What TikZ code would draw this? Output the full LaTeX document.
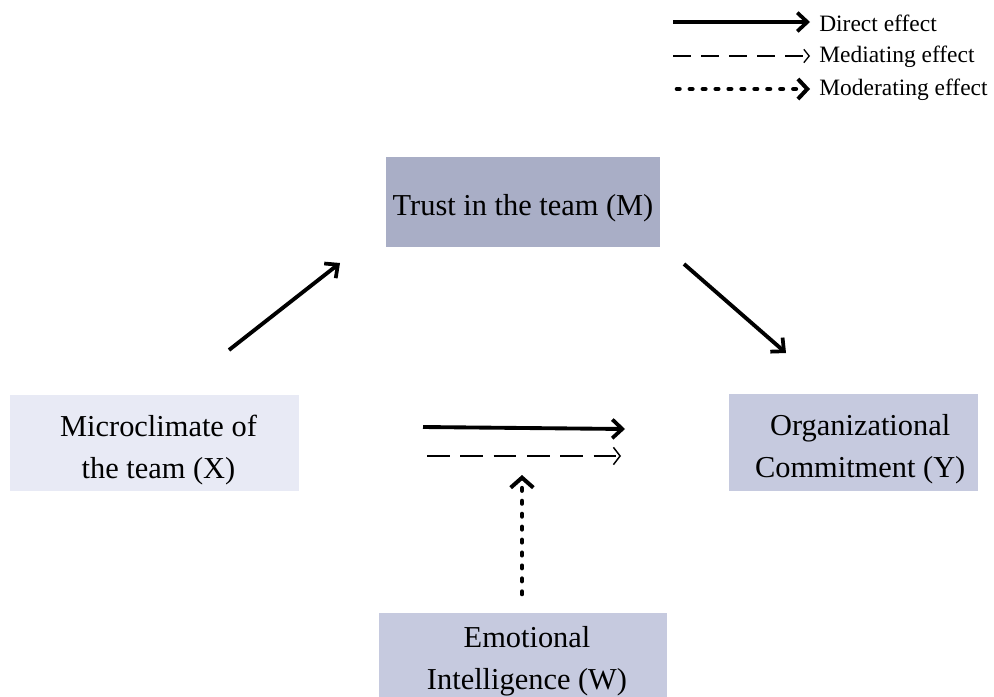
\documentclass[tikz,border=0pt]{standalone}
\usepackage{fontspec}
\setmainfont{Liberation Serif}
\usetikzlibrary{arrows.meta}
\definecolor{boxdark}{HTML}{A9AEC6}
\definecolor{boxmid}{HTML}{C6CADF}
\definecolor{boxlight}{HTML}{E8EAF5}
\tikzset{
  conceptbox/.style={draw=none, inner sep=0pt},
  concepttext/.style={align=center, inner sep=0pt,
    font=\fontsize{22.8}{31.5}\selectfont},
  legendtext/.style={anchor=west, inner sep=0pt,
    font=\fontsize{17.6}{20}\selectfont},
  directarrow/.style={line width=2.9pt,
    -{Straight Barb[length=7.5pt,width=14pt,line width=2.8pt]}},
  mediatearrow/.style={line width=1.3pt, dash pattern=on 17pt off 8pt,
    -{Straight Barb[length=5pt,width=13pt,line width=1.1pt]}},
  moderatearrow/.style={line width=3.5pt, line cap=round, dash pattern=on 1.8pt off 7.9pt,
    -{Straight Barb[length=7.5pt,width=17pt,line width=3pt]}},
}
\begin{document}
\begin{tikzpicture}[x=0.75pt,y=-0.75pt]
\useasboundingbox (0,0) rectangle (994,696);
\clip (0,0) rectangle (994,696);

% legend
\coordinate (l1a) at (673,22);  \coordinate (l1b) at (810,22);
\coordinate (l2a) at (673,56);  \coordinate (l2b) at (810,56);
\coordinate (l3a) at (677,89);  \coordinate (l3b) at (810,89);
\draw[directarrow] (l1a) -- (l1b);
\draw[mediatearrow, line width=1.1pt, dash pattern=on 13.5pt off 7.5pt,
  -{Straight Barb[length=4pt,width=10pt,line width=1pt]}] (l2a) -- (l2b);
\draw[moderatearrow, -{Straight Barb[length=7pt,width=15pt,line width=3pt]}] (l3a) -- (l3b);
\node[legendtext] (t1) at (819,23) {Direct effect};
\node[legendtext] (t2) at (819,57) {Mediating effect};
\node[legendtext] (t3) at (819,90) {Moderating effect};

% construct boxes
\node[conceptbox, fill=boxdark, minimum width=206pt, minimum height=67pt] (M) at (523,202) {};
\node[conceptbox, fill=boxlight, minimum width=217pt, minimum height=72pt] (X) at (154.5,443) {};
\node[conceptbox, fill=boxmid, minimum width=187pt, minimum height=73pt] (Y) at (853.5,442.5) {};
\node[conceptbox, fill=boxmid, minimum width=216pt, minimum height=66pt] (W) at (523,657) {};

% construct labels
\node[concepttext] (Mtext) at ([yshift=-5] M.center) {Trust in the team (M)};
\node[concepttext] (Xtext) at ([xshift=3,yshift=-5] X.center) {Microclimate of\\the team (X)};
\node[concepttext] (Ytext) at ([xshift=5,yshift=-5] Y.center) {Organizational\\Commitment (Y)};
\node[concepttext] (Wtext) at ([xshift=3,yshift=-3] W.center) {Emotional\\Intelligence (W)};

% paths between the constructs
\coordinate (a1) at (229,350); \coordinate (a2) at (340,263);
\coordinate (b1) at (684,264); \coordinate (b2) at (786,353);
\coordinate (c1) at (423,427); \coordinate (c2) at (625,429);
\coordinate (d1) at (427,456); \coordinate (d2) at (621,456);
\coordinate (e1) at (522,594); \coordinate (e2) at (522,475);
\draw[directarrow] (a1) -- (a2);
\draw[directarrow] (b1) -- (b2);
\draw[directarrow] (c1) -- (c2);
\draw[mediatearrow] (d1) -- (d2);
\draw[moderatearrow] (e1) -- (e2);
\end{tikzpicture}
\end{document}
